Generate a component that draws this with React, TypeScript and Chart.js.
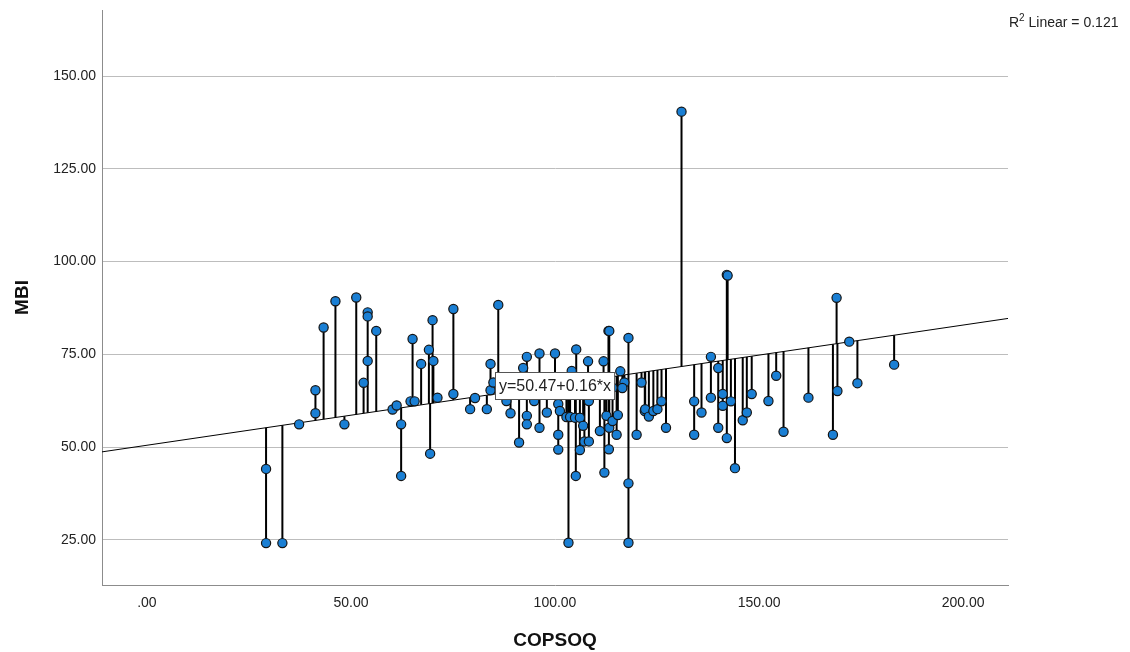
import React, { useEffect, useRef } from "react";
import { Chart, registerables } from "chart.js";

Chart.register(...registerables);

// COPSOQ (x) values of each respondent
const copsoq: number[] = [
  29.2, 29.2, 33.2, 37.3, 41.3, 41.3, 43.3, 46.2, 48.4, 51.3,
  53.1, 54.1, 54.1, 54.1, 56.2, 60.2, 61.2, 62.3, 62.3, 65.1,
  64.6, 65.6, 67.2, 69.1, 70.2, 70.0, 69.4, 71.2, 75.1, 75.1,
  79.2, 80.4, 83.3, 84.2, 84.2, 84.9, 86.1, 88.1, 89.1, 91.2,
  92.2, 93.1, 93.1, 93.1, 94.9, 96.2, 96.2, 98.0, 100.0, 100.8,
  101.2, 100.8, 100.8, 102.8, 103.3, 103.7, 104.1, 105.2, 105.1, 104.9,
  106.1, 106.1, 106.9, 107.2, 108.1, 108.3, 108.3, 111.0, 111.9, 112.1,
  113.1, 113.3, 113.2, 113.3, 112.6, 114.1, 114.1, 115.1, 115.4, 116.0,
  117.0, 116.5, 118.0, 118.0, 118.0, 120.0, 121.2, 122.0, 122.1, 123.0,
  124.1, 125.1, 126.1, 127.2, 131.0, 134.1, 134.1, 135.9, 138.2, 138.2,
  140.0, 140.0, 141.1, 141.1, 142.1, 142.3, 142.1, 143.1, 144.1, 146.0,
  147.0, 148.2, 152.3, 154.2, 156.0, 162.1, 168.1, 169.0, 169.2, 172.1,
  174.1, 183.1,
];

// MBI (y) values of each respondent
const mbi: number[] = [
  24.1, 44.1, 24.1, 56.1, 59.1, 65.3, 82.2, 89.3, 56.1, 90.3,
  67.3, 86.3, 85.2, 73.2, 81.3, 60.1, 61.2, 56.1, 42.2, 79.1,
  62.3, 62.3, 72.4, 76.2, 73.2, 84.2, 48.2, 63.3, 87.2, 64.3,
  60.2, 63.2, 60.2, 72.4, 65.3, 67.4, 88.3, 62.4, 59.1, 51.2,
  71.3, 74.3, 58.4, 56.1, 62.4, 75.2, 55.2, 59.3, 75.2, 61.6,
  59.7, 53.3, 49.3, 58.1, 24.2, 58.1, 70.5, 76.3, 42.2, 57.9,
  57.9, 49.2, 55.7, 51.5, 73.1, 51.5, 62.4, 54.3, 73.1, 43.1,
  81.3, 81.3, 49.4, 55.2, 58.4, 57.0, 66.0, 53.3, 58.6, 70.4,
  67.4, 65.9, 79.4, 40.2, 24.2, 53.3, 67.4, 59.7, 60.2, 58.2,
  59.7, 60.2, 62.3, 55.2, 140.4, 62.3, 53.3, 59.3, 74.3, 63.3,
  71.3, 55.2, 64.3, 61.1, 96.4, 96.2, 52.4, 62.3, 44.3, 57.2,
  59.3, 64.3, 62.4, 69.2, 54.1, 63.3, 53.3, 90.2, 65.1, 78.4,
  67.2, 72.2,
];

const fitIntercept = 50.47;
const fitSlope = 0.162;
const fitLabel = "y=50.47+0.16*x";
const fitLabelAt = 100;
const r2Parts = ["R", "2", " Linear = 0.121"];

const xTicks = [0, 50, 100, 150, 200];
const yTicks = [25, 50, 75, 100, 125, 150];
const xRange = [-11, 211];
const yRange = [12.8, 167.8];

const xTitle = "COPSOQ";
const yTitle = "MBI";

const FONT = '"Liberation Sans", Arial, sans-serif';

const fit = (x: number) => fitIntercept + fitSlope * x;
const fmt = (v: number) => (v === 0 ? ".00" : v.toFixed(2));

export default function App() {
  const ref = useRef<HTMLCanvasElement | null>(null);

  useEffect(() => {
    if (!ref.current) return;

    const points = copsoq.map((x, i) => ({ x, y: mbi[i] }));
    const drops = copsoq.flatMap((x, i) => [
      { x, y: mbi[i] },
      { x, y: fit(x) },
      { x, y: null as any },
    ]);
    const fitLine = xRange.map((x) => ({ x, y: fit(x) }));

    const annot = {
      id: "annot",
      afterDatasetsDraw(chart: any) {
        const { ctx, scales, chartArea } = chart;
        const px = scales.x.getPixelForValue(fitLabelAt);
        const py = scales.y.getPixelForValue(fit(fitLabelAt));
        ctx.save();
        ctx.font = `16px ${FONT}`;
        const w = ctx.measureText(fitLabel).width + 7;
        const h = 27;
        const bx = Math.round(px - w / 2) + 0.5;
        const by = Math.round(py - h / 2) + 0.5;
        ctx.fillStyle = "#ffffff";
        ctx.fillRect(bx, by, w, h);
        ctx.strokeStyle = "#555555";
        ctx.lineWidth = 1;
        ctx.strokeRect(bx, by, w, h);
        ctx.fillStyle = "#222222";
        ctx.textAlign = "center";
        ctx.textBaseline = "middle";
        ctx.fillText(fitLabel, px, py + 1);

        // R² annotation
        ctx.textAlign = "left";
        ctx.textBaseline = "alphabetic";
        let tx = chartArea.right + 1;
        const ty = 27;
        ctx.font = `14px ${FONT}`;
        ctx.fillText(r2Parts[0], tx, ty);
        tx += ctx.measureText(r2Parts[0]).width;
        ctx.font = `10px ${FONT}`;
        ctx.fillText(r2Parts[1], tx, ty - 6);
        tx += ctx.measureText(r2Parts[1]).width;
        ctx.font = `14px ${FONT}`;
        ctx.fillText(r2Parts[2], tx, ty);
        ctx.restore();
      },
    };

    const chart = new Chart(ref.current, {
      type: "scatter",
      data: {
        datasets: [
          {
            type: "scatter",
            data: points,
            order: 0,
            pointRadius: 4.6,
            pointHoverRadius: 4.6,
            pointBackgroundColor: "#1a7fd4",
            pointBorderColor: "#141414",
            pointBorderWidth: 1.2,
          } as any,
          {
            type: "line",
            data: fitLine,
            order: 1,
            showLine: true,
            borderColor: "#000000",
            borderWidth: 1,
            pointRadius: 0,
            fill: false,
          } as any,
          {
            type: "line",
            data: drops,
            order: 2,
            showLine: true,
            spanGaps: false,
            borderColor: "#000000",
            borderWidth: 2,
            pointRadius: 0,
            fill: false,
          } as any,
        ],
      },
      options: {
        animation: false,
        responsive: false,
        maintainAspectRatio: false,
        events: [],
        layout: { padding: { top: 10, right: 122, left: 0, bottom: 0 } },
        plugins: {
          legend: { display: false },
          tooltip: { enabled: false },
        },
        scales: {
          x: {
            type: "linear",
            min: xRange[0],
            max: xRange[1],
            afterBuildTicks: (s: any) => {
              s.ticks = xTicks.map((v) => ({ value: v }));
            },
            afterFit: (s: any) => {
              s.height = 67;
              s.paddingLeft = 0;
              s.paddingRight = 0;
            },
            grid: { display: false, drawTicks: false },
            border: { display: true, color: "#8c8c8c", width: 1 },
            ticks: {
              padding: 10,
              color: "#222222",
              font: { family: FONT, size: 14 },
              callback: (v: any) => fmt(Number(v)),
              maxRotation: 0,
            },
            title: {
              display: true,
              text: xTitle,
              color: "#111111",
              font: { family: FONT, size: 19, weight: "bold" },
              padding: { top: 0, bottom: 0 },
            },
          },
          y: {
            type: "linear",
            min: yRange[0],
            max: yRange[1],
            afterBuildTicks: (s: any) => {
              s.ticks = yTicks.map((v) => ({ value: v }));
            },
            afterFit: (s: any) => {
              s.width = 102;
              s.paddingTop = 0;
              s.paddingBottom = 0;
            },
            grid: { display: true, drawTicks: false, color: "#bdbdbd", lineWidth: 1 },
            border: { display: true, color: "#8c8c8c", width: 1 },
            ticks: {
              padding: 6,
              color: "#222222",
              font: { family: FONT, size: 14 },
              callback: (v: any) => fmt(Number(v)),
            },
            title: {
              display: true,
              text: yTitle,
              color: "#111111",
              font: { family: FONT, size: 19, weight: "bold" },
              padding: { top: 11, bottom: 0 },
            },
          },
        },
      } as any,
      plugins: [annot],
    });

    return () => chart.destroy();
  }, []);

  return (
    <div style={{ position: "absolute", left: 0, top: 0, width: 1130, height: 652, background: "#ffffff" }}>
      <canvas ref={ref} width={1130} height={652} style={{ display: "block", width: 1130, height: 652 }} />
    </div>
  );
}
